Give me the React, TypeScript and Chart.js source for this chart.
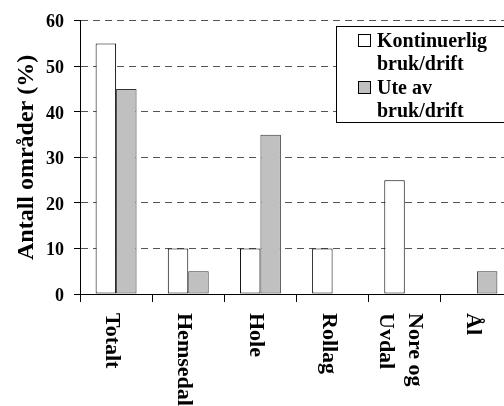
import React, { useEffect, useRef } from 'react';
import { Chart, registerables } from 'chart.js';

Chart.register(...registerables);

const categories: (string | string[])[] = ['Totalt', 'Hemsedal', 'Hole', 'Rollag', ['Nore og', 'Uvdal'], 'Ål'];
const seriesNames: string[][] = [['Kontinuerlig', 'bruk/drift'], ['Ute av', 'bruk/drift']];
const kontinuerlig: number[] = [55, 10, 10, 10, 25, 0];
const uteAv: number[] = [45, 5, 35, 0, 0, 5];
const yTicks: number[] = [0, 10, 20, 30, 40, 50, 60];
const yTitle = 'Antall områder (%)';

const FONT = "'Liberation Serif', 'Times New Roman', serif";
const fills = ['#ffffff', '#c0c0c0'];
const borders = ['#000000', '#333333'];

const customText = {
  id: 'customText',
  afterDraw(chart: any) {
    const { ctx, chartArea, scales } = chart;
    const xs = scales.x;
    ctx.save();
    ctx.fillStyle = '#000';
    // category labels, rotated clockwise
    ctx.font = `bold 22px ${FONT}`;
    ctx.textAlign = 'left';
    ctx.textBaseline = 'alphabetic';
    (chart.data.labels as any[]).forEach((lab, i) => {
      const lines: string[] = Array.isArray(lab) ? lab : [lab];
      const cx = xs.getPixelForValue(i);
      lines.forEach((ln, j) => {
        const bx = cx - 10 + (lines.length - 1) * 14.5 - j * 29;
        ctx.save();
        ctx.translate(bx, chartArea.bottom + 19);
        ctx.rotate(Math.PI / 2);
        ctx.fillText(ln, 0, 0);
        ctx.restore();
      });
    });
    // y title
    ctx.font = `bold 24px ${FONT}`;
    ctx.textAlign = 'center';
    ctx.save();
    ctx.translate(33, (chartArea.top + chartArea.bottom) / 2);
    ctx.rotate(-Math.PI / 2);
    ctx.fillText(yTitle, 0, 0);
    ctx.restore();
    // legend
    ctx.fillStyle = '#fff';
    ctx.fillRect(336, 26, 220, 97);
    ctx.strokeStyle = '#000';
    ctx.lineWidth = 1;
    ctx.strokeRect(336.5, 26.5, 220, 96);
    ctx.font = `bold 20px ${FONT}`;
    ctx.textAlign = 'left';
    chart.data.datasets.forEach((ds: any, i: number) => {
      const base = 47 + i * 47;
      ctx.fillStyle = ds.backgroundColor;
      ctx.fillRect(358.5, base - 12.5, 12, 12);
      ctx.strokeStyle = '#000';
      ctx.strokeRect(358.5, base - 12.5, 12, 12);
      ctx.fillStyle = '#000';
      (ds.labelLines as string[]).forEach((ln, j) => {
        ctx.fillText(ln, 377, base + j * 23);
      });
    });
    ctx.restore();
  },
};

export default function App() {
  const ref = useRef<HTMLCanvasElement>(null);
  useEffect(() => {
    if (!ref.current) return;
    const chart = new Chart(ref.current, {
      type: 'bar',
      data: {
        labels: categories as any,
        datasets: [kontinuerlig, uteAv].map((d, i) => ({
          label: seriesNames[i].join(' '),
          labelLines: seriesNames[i],
          data: d,
          backgroundColor: fills[i],
          borderColor: borders[i],
          borderWidth: 1,
          borderSkipped: false,
          categoryPercentage: 0.567,
          barPercentage: 1,
        })) as any,
      },
      options: {
        animation: false,
        responsive: false,
        maintainAspectRatio: false,
        layout: { padding: { top: 20, right: 7, left: 0, bottom: 0 } },
        plugins: { legend: { display: false }, tooltip: { enabled: false } },
        scales: {
          x: {
            type: 'category',
            offset: true,
            grid: {
              offset: true,
              drawOnChartArea: false,
              drawTicks: true,
              tickLength: 8,
              tickColor: '#000',
              color: '#000',
            },
            border: { display: true, color: '#000', width: 1 },
            ticks: { display: false },
            afterFit: (s: any) => { s.height = 112; },
          },
          y: {
            min: 0,
            max: 60,
            afterBuildTicks: (s: any) => { s.ticks = yTicks.map((v) => ({ value: v })); },
            grid: {
              color: '#555',
              tickColor: '#000',
              tickLength: 6,
              tickBorderDash: [],
            } as any,
            border: { display: true, color: '#000', width: 1, dash: [7, 5] },
            ticks: {
              color: '#000',
              padding: 10,
              labelOffset: 2,
              font: { family: FONT, size: 18, weight: 'bold' },
            },
            afterFit: (s: any) => { s.width = 80; },
          },
        },
      },
      plugins: [customText],
    });
    return () => chart.destroy();
  }, []);
  return (
    <div style={{ position: 'fixed', left: 0, top: 0, width: 504, height: 406, overflow: 'hidden', background: '#fff' }}>
      <canvas ref={ref} width={520} height={406} style={{ display: 'block', width: 520, height: 406 }} />
    </div>
  );
}
